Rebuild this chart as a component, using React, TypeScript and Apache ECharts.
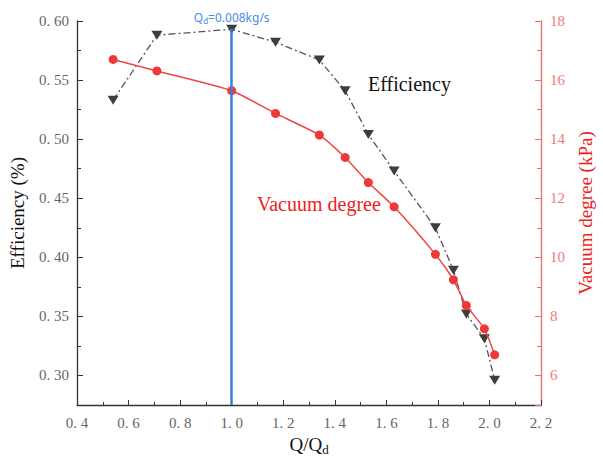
import React, { useEffect, useRef } from "react";
import * as echarts from "echarts";

// Flow ratio Q/Qd shared by both measurement series
const flowRatio = [0.54, 0.71, 1.0, 1.17, 1.34, 1.44, 1.53, 1.63, 1.79, 1.86, 1.91, 1.98, 2.02];
// Efficiency (left axis)
const efficiency = [0.533, 0.588, 0.593, 0.582, 0.567, 0.541, 0.504, 0.473, 0.425, 0.389, 0.352, 0.331, 0.296];
// Vacuum degree in kPa (right axis)
const vacuumDegree = [16.7, 16.31, 15.64, 14.87, 14.14, 13.38, 12.53, 11.71, 10.1, 9.24, 8.37, 7.58, 6.7];
// Design point marker
const designRatio = 1.0;
const designLabel = "0.008kg/s";

const SERIF = "'Liberation Serif', 'DejaVu Serif', serif";

const spaced = (s: string) => s.replace(".", ". ");

export default function App() {
  const ref = useRef<HTMLDivElement>(null);

  useEffect(() => {
    if (!ref.current) return;
    const chart = echarts.init(ref.current, undefined, { renderer: "svg" });

    const effData = flowRatio.map((x, i) => [x, efficiency[i]]);
    const vacData = flowRatio.map((x, i) => [x, vacuumDegree[i]]);

    chart.setOption({
      animation: false,
      backgroundColor: "#ffffff",
      grid: { left: 76, right: 50, top: 21, bottom: 58 },
      xAxis: {
        type: "value",
        min: 0.4,
        max: 2.2,
        interval: 0.2,
        name: "{a|Q/Q}{b|d}",
        nameLocation: "middle",
        nameGap: 28,
        nameTextStyle: {
          rich: {
            a: { fontFamily: SERIF, fontSize: 19, color: "#111" },
            b: { fontFamily: SERIF, fontSize: 13, color: "#111", padding: [10, 0, 0, 0] },
          },
        },
        axisLine: { show: true, lineStyle: { color: "#333", width: 1.3 } },
        axisTick: { show: true, inside: true, length: 5, lineStyle: { color: "#333" } },
        minorTick: { show: true, splitNumber: 2, length: 3, lineStyle: { color: "#333" } },
        splitLine: { show: false },
        axisLabel: {
          fontFamily: SERIF,
          fontSize: 15,
          color: "#666",
          margin: 10,
          formatter: (v: number) => spaced(v.toFixed(1)),
        },
      },
      yAxis: [
        {
          type: "value",
          position: "left",
          min: 0.275,
          max: 0.6,
          splitNumber: 6,
          name: "Efficiency (%)",
          nameLocation: "middle",
          nameRotate: 90,
          nameGap: 50,
          nameTextStyle: { fontFamily: SERIF, fontSize: 19, color: "#111" },
          axisLine: { show: true, lineStyle: { color: "#333", width: 1.3 } },
          axisTick: { show: true, inside: true, length: 6, lineStyle: { color: "#333" } },
          minorTick: { show: true, splitNumber: 2, length: 4, lineStyle: { color: "#333" } },
          splitLine: { show: false },
          axisLabel: {
            fontFamily: SERIF,
            fontSize: 15,
            color: "#666",
            margin: 8,
            formatter: (v: number) => {
              const r = Math.round(v * 100);
              return r % 5 === 0 ? spaced(v.toFixed(2)) : "";
            },
          },
        },
        {
          type: "value",
          position: "right",
          min: 5,
          max: 18,
          splitNumber: 6,
          name: "Vacuum degree (kPa)",
          nameLocation: "middle",
          nameRotate: 90,
          nameGap: 30,
          nameTextStyle: { fontFamily: SERIF, fontSize: 19, color: "#ee1c1c" },
          axisLine: { show: true, lineStyle: { color: "#f26a6a", width: 1.3 } },
          axisTick: { show: true, inside: true, length: 6, lineStyle: { color: "#f26a6a" } },
          minorTick: { show: true, splitNumber: 2, length: 4, lineStyle: { color: "#f26a6a" } },
          splitLine: { show: false },
          axisLabel: {
            fontFamily: SERIF,
            fontSize: 15,
            color: "#f07a7a",
            margin: 9,
            formatter: (v: number) => (Math.round(v) % 2 === 0 ? String(v) : ""),
          },
        },
      ],
      series: [
        {
          name: "Efficiency",
          type: "line",
          yAxisIndex: 0,
          data: effData,
          symbol: "triangle",
          symbolRotate: 180,
          symbolSize: [11, 9],
          itemStyle: { color: "#3d3d3d" },
          lineStyle: { color: "#555", width: 1.3, type: [7, 3, 2, 3] },
          z: 2,
          markLine: {
            silent: true,
            symbol: "none",
            lineStyle: { color: "#3b7ddd", width: 2.5, type: "solid" },
            label: {
              show: true,
              position: "end",
              distance: 4,
              formatter: "{a|Q}{b|d}{a|=" + designLabel + "}",
              rich: {
                a: { fontFamily: "'Noto Sans', sans-serif", fontSize: 12, color: "#4a8be8" },
                b: { fontFamily: "'Noto Sans', sans-serif", fontSize: 8, color: "#4a8be8", padding: [7, 0, 0, 0] },
              },
            },
            data: [[{ coord: [designRatio, 0.275] }, { coord: [designRatio, 0.5935] }]],
          },
        },
        {
          name: "Vacuum degree",
          type: "line",
          yAxisIndex: 1,
          data: vacData,
          smooth: 0.2,
          symbol: "circle",
          symbolSize: 9,
          itemStyle: { color: "#ef3838" },
          lineStyle: { color: "#f04545", width: 1.5 },
          z: 3,
        },
      ],
      graphic: [
        {
          type: "text",
          left: 368,
          top: 74,
          style: { text: "Efficiency", fontFamily: SERIF, fontSize: 20, fill: "#111" },
        },
        {
          type: "text",
          left: 257,
          top: 194,
          style: { text: "Vacuum degree", fontFamily: SERIF, fontSize: 20, fill: "#ee1c1c" },
        },
      ],
    });

    return () => chart.dispose();
  }, []);

  return (
    <div
      ref={ref}
      style={{ position: "fixed", left: 0, top: 0, width: 603, height: 463, background: "#fff" }}
    />
  );
}
